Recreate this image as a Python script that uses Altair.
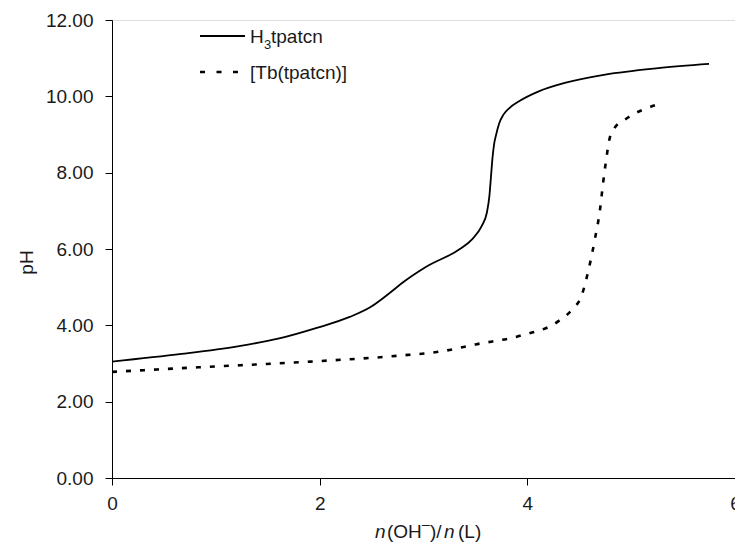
import altair as alt
import pandas as pd

# Data
ligand_x = [0, 0.67, 1.21, 1.6, 1.98, 2.29, 2.49, 2.68, 2.80, 3.03, 3.35, 3.47, 3.56, 3.61,
            3.635, 3.65, 3.665, 3.68, 3.70, 3.73, 3.77, 3.83, 3.92, 4.11, 4.36, 4.75, 5.26, 5.75]
ligand_ph = [3.05, 3.25, 3.45, 3.65, 3.94, 4.22, 4.48, 4.86, 5.12, 5.54, 6.0, 6.26, 6.6, 6.95,
             7.4, 7.9, 8.4, 8.75, 9.0, 9.3, 9.52, 9.7, 9.87, 10.13, 10.35, 10.57, 10.74, 10.85]
complex_x = [0, 0.83, 1.91, 2.74, 3.2, 3.5, 3.92, 4.3, 4.43, 4.52, 4.59, 4.65, 4.70, 4.73,
             4.76, 4.79, 4.84, 4.94, 5.27]
complex_ph = [2.78, 2.9, 3.05, 3.2, 3.33, 3.5, 3.72, 4.11, 4.41, 4.76, 5.46, 6.25, 7.03, 7.74,
              8.35, 8.87, 9.17, 9.39, 9.80]
x_ticks = [0, 2, 4, 6]
y_ticks = [0, 2, 4, 6, 8, 10, 12]

FONT = "Liberation Sans"
TXT = "#1a1a1a"
FS = 19
W, H = 623, 458

df_l = pd.DataFrame({"x": ligand_x, "ph": ligand_ph})
df_c = pd.DataFrame({"x": complex_x, "ph": complex_ph})
one = pd.DataFrame({"k": [0]})

xs = alt.Scale(domain=[0, 6], nice=False)
ys = alt.Scale(domain=[0, 12], nice=False)

xenc = alt.X("x:Q", scale=xs, title=None,
             axis=alt.Axis(values=x_ticks, format="d", grid=False, tickSize=7,
                           labelPadding=9, labelFontSize=FS, labelFont=FONT,
                           labelColor=TXT, domainColor="#000", tickColor="#000",
                           labelFlush=False))
yenc = alt.Y("ph:Q", scale=ys, title="pH",
             axis=alt.Axis(values=y_ticks, format=".2f", grid=False, tickSize=7,
                           labelPadding=12, labelFontSize=FS, labelFont=FONT,
                           labelColor=TXT, domainColor="#000", tickColor="#000",
                           titleFontSize=FS, titleFont=FONT, titleFontWeight="normal",
                           titleColor=TXT, titleX=-76, titleY=242, titleAngle=270,
                           titleBaseline="bottom", titleAlign="center"))

ligand = alt.Chart(df_l).mark_line(color="#000", strokeWidth=1.8, interpolate="monotone").encode(
    x=xenc, y=yenc)
complex_ = alt.Chart(df_c).mark_line(color="#000", strokeWidth=2.6, strokeDash=[5, 9],
                                     interpolate="monotone").encode(x="x:Q", y="ph:Q")

# legend
leg1 = alt.Chart(one).mark_rule(color="#000", strokeWidth=1.8).encode(
    x=alt.value(88), x2=alt.value(133), y=alt.value(16))
leg2 = alt.Chart(one).mark_rule(color="#000", strokeWidth=2.6, strokeDash=[5, 11.5]).encode(
    x=alt.value(88), x2=alt.value(127), y=alt.value(52))


def txt(s, x, y, size=FS, style="normal"):
    return alt.Chart(one).mark_text(text=s, font=FONT, fontSize=size, fontStyle=style,
                                    color=TXT, align="left", baseline="middle").encode(
        x=alt.value(x), y=alt.value(y))


texts = [
    txt("H", 138, 17),
    txt("3", 152, 25, size=13),
    txt("tpatcn", 159, 17),
    txt("[Tb(tpatcn)]", 138, 53),
    # x-axis title
    txt("n", 263, 512, style="italic"),
    txt("(OH", 275, 512),
    txt("\u2013", 310, 505, size=14),
    txt(")/", 318, 512),
    txt("n", 332, 512, style="italic"),
    txt("(L)", 346, 512),
]

chart = alt.layer(ligand, complex_, leg1, leg2, *texts).properties(
    width=W, height=H,
    autosize=alt.AutoSizeParams(type="none"),
    padding={"left": 104, "top": 12, "right": 0, "bottom": 70},
).configure_view(stroke=None).configure(background="white")

chart.save("out.html", embed_options={"renderer": "svg", "actions": False})
